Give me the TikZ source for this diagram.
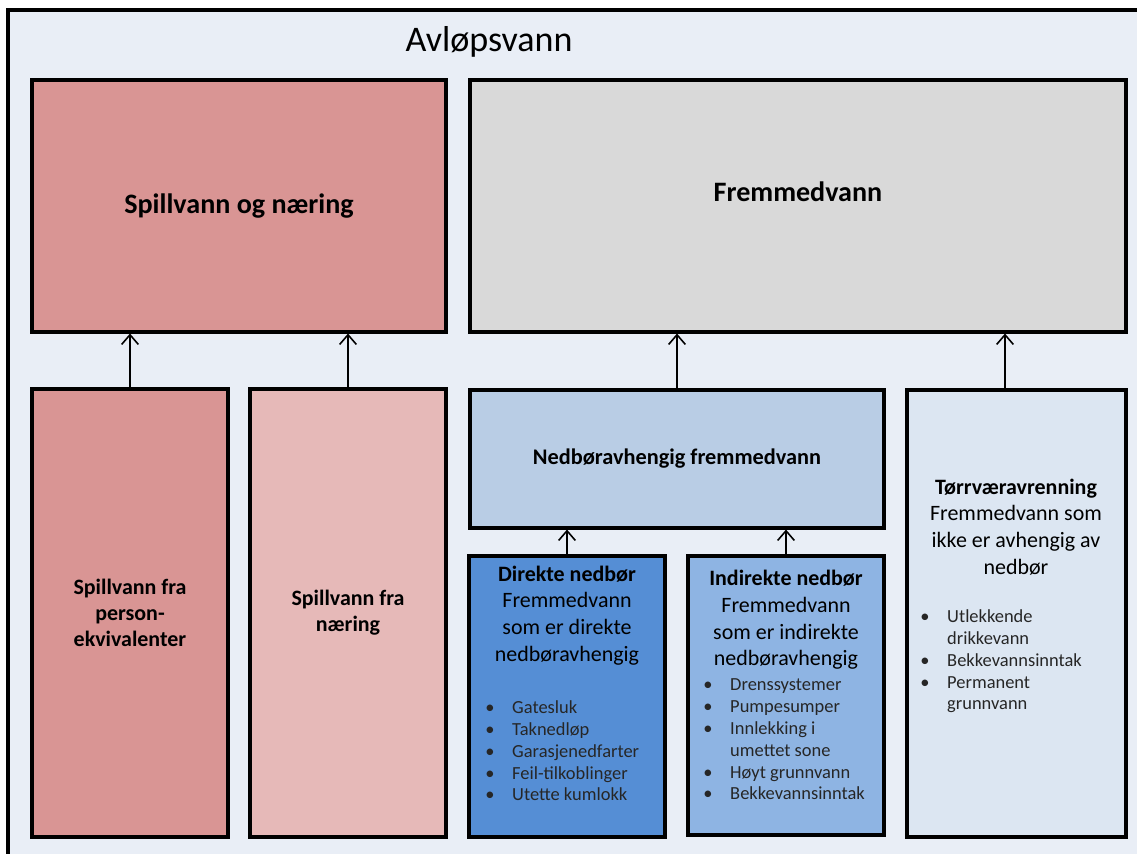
\documentclass[tikz,border=0pt]{standalone}
\usepackage{fontspec}
\setmainfont{Carlito}
\usetikzlibrary{arrows.meta}

\definecolor{ramme}{HTML}{E9EEF6}
\definecolor{rod}{HTML}{D99594}
\definecolor{lysrod}{HTML}{E6B9B8}
\definecolor{gra}{HTML}{D9D9D9}
\definecolor{blaa}{HTML}{B9CDE5}
\definecolor{morkblaa}{HTML}{558ED5}
\definecolor{mellomblaa}{HTML}{8EB4E3}
\definecolor{lysblaa}{HTML}{DCE6F2}
\newcommand{\pkt}{\makebox[15.3pt][l]{\textbullet}}
\newcommand{\inn}{\makebox[15.3pt]{}}

\begin{document}
\begin{tikzpicture}[x=0.02cm, y=-0.02cm,
    box/.style={draw, line width=1.8pt, inner sep=0pt},
    pil/.style={-{Straight Barb[length=5.5pt,width=9.5pt]}, line width=0.9pt},
    tekst/.style={align=center, font=\fontsize{12.5}{15.2}\selectfont},
    liste/.style={align=left, anchor=west, inner sep=0pt, text=black!85, font=\fontsize{10.5}{12.4}\selectfont}]
    \clip (0,0) rectangle (1137,854);
    \fill[white] (0,0) rectangle (1137,854);
    \draw[line width=1.8pt, fill=ramme] (8,10) rectangle (1160,880);
    \node (tittel) at (489,42) {\fontsize{20.5}{24}\selectfont Avløpsvann};

    \node[box, fill=rod, minimum width=8.28cm, minimum height=5.04cm, font=\bfseries\fontsize{16}{19}\selectfont] (S) at (239,206) {\raisebox{-2pt}{Spillvann og næring}};
    \node[box, fill=gra, minimum width=13.12cm, minimum height=5.04cm] (F) at (798,206) {};
    \node[font=\bfseries\fontsize{16}{19}\selectfont] (Ft) at (798,192) {Fremmedvann};

    \node[box, tekst, fill=rod, minimum width=3.92cm, minimum height=8.96cm, font=\bfseries\fontsize{12.5}{14.8}\selectfont] (P) at (130,613) {Spillvann fra\\person-\\ekvivalenter};
    \node[box, tekst, fill=lysrod, minimum width=3.92cm, minimum height=8.96cm, font=\bfseries\fontsize{12.5}{14.8}\selectfont] (N) at (348,613) {Spillvann fra\\næring};
    \node[box, fill=blaa, minimum width=8.28cm, minimum height=2.76cm, font=\bfseries\fontsize{12.7}{15}\selectfont] (NF) at (677,459) {Nedbøravhengig fremmedvann};
    \node[box, fill=lysblaa, minimum width=4.38cm, minimum height=8.94cm] (T) at (1016.5,613.5) {};
    \node[box, fill=morkblaa, minimum width=3.92cm, minimum height=5.62cm] (D) at (567,696.5) {};
    \node[box, fill=mellomblaa, minimum width=3.92cm, minimum height=5.58cm] (I) at (786,695.5) {};

    \node[tekst] (Dt) at (567,615.5) {\textbf{Direkte nedbør}\\Fremmedvann\\som er direkte\\nedbøravhengig};
    \node[tekst] (It) at (786,620) {\textbf{Indirekte nedbør}\\Fremmedvann\\som er indirekte\\nedbøravhengig};
    \node[tekst] (Tt) at (1016,527) {\textbf{Tørrværavrenning}\\Fremmedvann som\\ikke er avhengig av\\nedbør};

    \node[liste] (Dl) at (485,751) {\pkt Gatesluk\\\pkt Taknedløp\\\pkt Garasjenedfarter\\\pkt Feil-tilkoblinger\\\pkt Utette kumlokk};
    \node[liste] (Il) at (703,739.5) {\pkt Drenssystemer\\\pkt Pumpesumper\\\pkt Innlekking i\\\inn umettet sone\\\pkt Høyt grunnvann\\\pkt Bekkevannsinntak};
    \node[liste] (Tl) at (920,661.5) {\pkt Utlekkende\\\inn drikkevann\\\pkt Bekkevannsinntak\\\pkt Permanent\\\inn grunnvann};

    % piler
    \draw[pil] (P.north) -- (P.north |- S.south);
    \draw[pil] (N.north) -- (N.north |- S.south);
    \draw[pil] (NF.north) -- (NF.north |- F.south);
    \draw[pil] ([xshift=-0.23cm]T.north) -- ([xshift=-0.23cm]T.north |- F.south);
    \draw[pil] (D.north) -- (D.north |- NF.south);
    \draw[pil] (I.north) -- (I.north |- NF.south);
\end{tikzpicture}
\end{document}
